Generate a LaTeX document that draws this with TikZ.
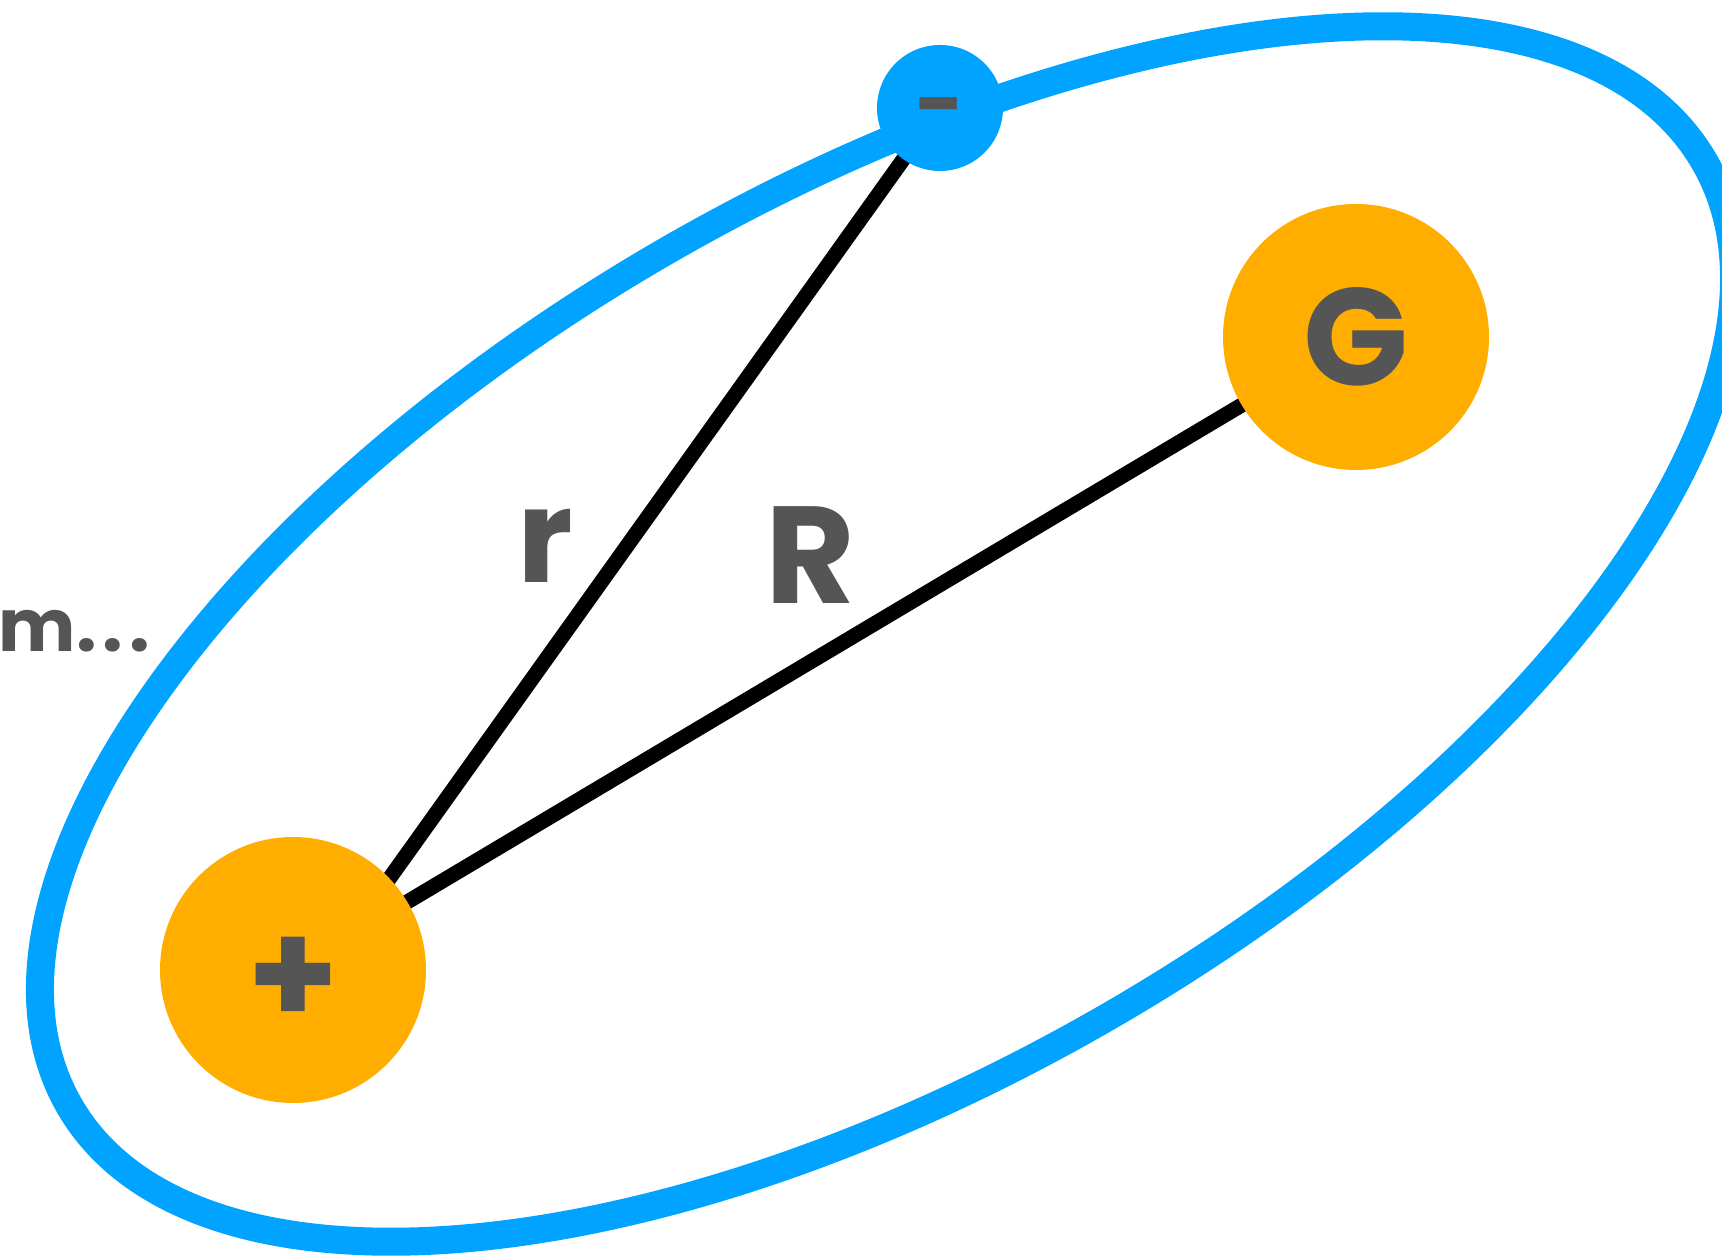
\documentclass[tikz,border=0pt]{standalone}
\usepackage{fontspec}
\setmainfont{Poppins}
\usepackage{tikz}
\usetikzlibrary{backgrounds}
\definecolor{orbitblue}{RGB}{0, 163, 255}
\definecolor{chargeorange}{RGB}{255, 174, 0}
\definecolor{labelgray}{RGB}{85, 85, 85}

\begin{document}
\begin{tikzpicture}[x=1pt, y=1pt,
    charge/.style={circle, fill=chargeorange, minimum size=266pt, inner sep=0pt,
                   text=labelgray, font=\bfseries\fontsize{138}{138}\selectfont},
    electron/.style={circle, fill=orbitblue, minimum size=126pt, inner sep=0pt,
                     text=labelgray, font=\bfseries\fontsize{85}{85}\selectfont},
    bond/.style={draw=black, line width=15pt},
    tag/.style={text=labelgray, inner sep=0pt, font=\bfseries\fontsize{#1}{#1}\selectfont}
]
    \useasboundingbox (0,0) rectangle (1722,1257);

    % Orbit
    \draw[orbitblue, line width=28pt, rotate around={30:(887,623)}]
        (887,623) ellipse [x radius=944, y radius=442];

    % Charges
    \node[electron] (minus) at (940,1149) {\smash{\raisebox{-26pt}{-}}};
    \node[charge, font=\bfseries\fontsize{146}{146}\selectfont] (plus) at (293,287)
        {\smash{\raisebox{-56pt}{+}}};
    \node[charge] (gcharge) at (1356,920) {G};

    % Distances
    \begin{scope}[on background layer]
        \draw[bond] (minus.center) -- ([xshift=31]plus.center);
        \draw[bond] (plus.center) -- (gcharge.center);
    \end{scope}

    % Labels
    \node[tag=130, anchor=base] (rlabel) at (545,674) {r};
    \node[tag=138, anchor=base] (Rlabel) at (810,653) {R};
    \node[tag=73, anchor=base east] (mlabel) at (150,605) {m.\kern6pt.\kern6pt.};
\end{tikzpicture}
\end{document}
